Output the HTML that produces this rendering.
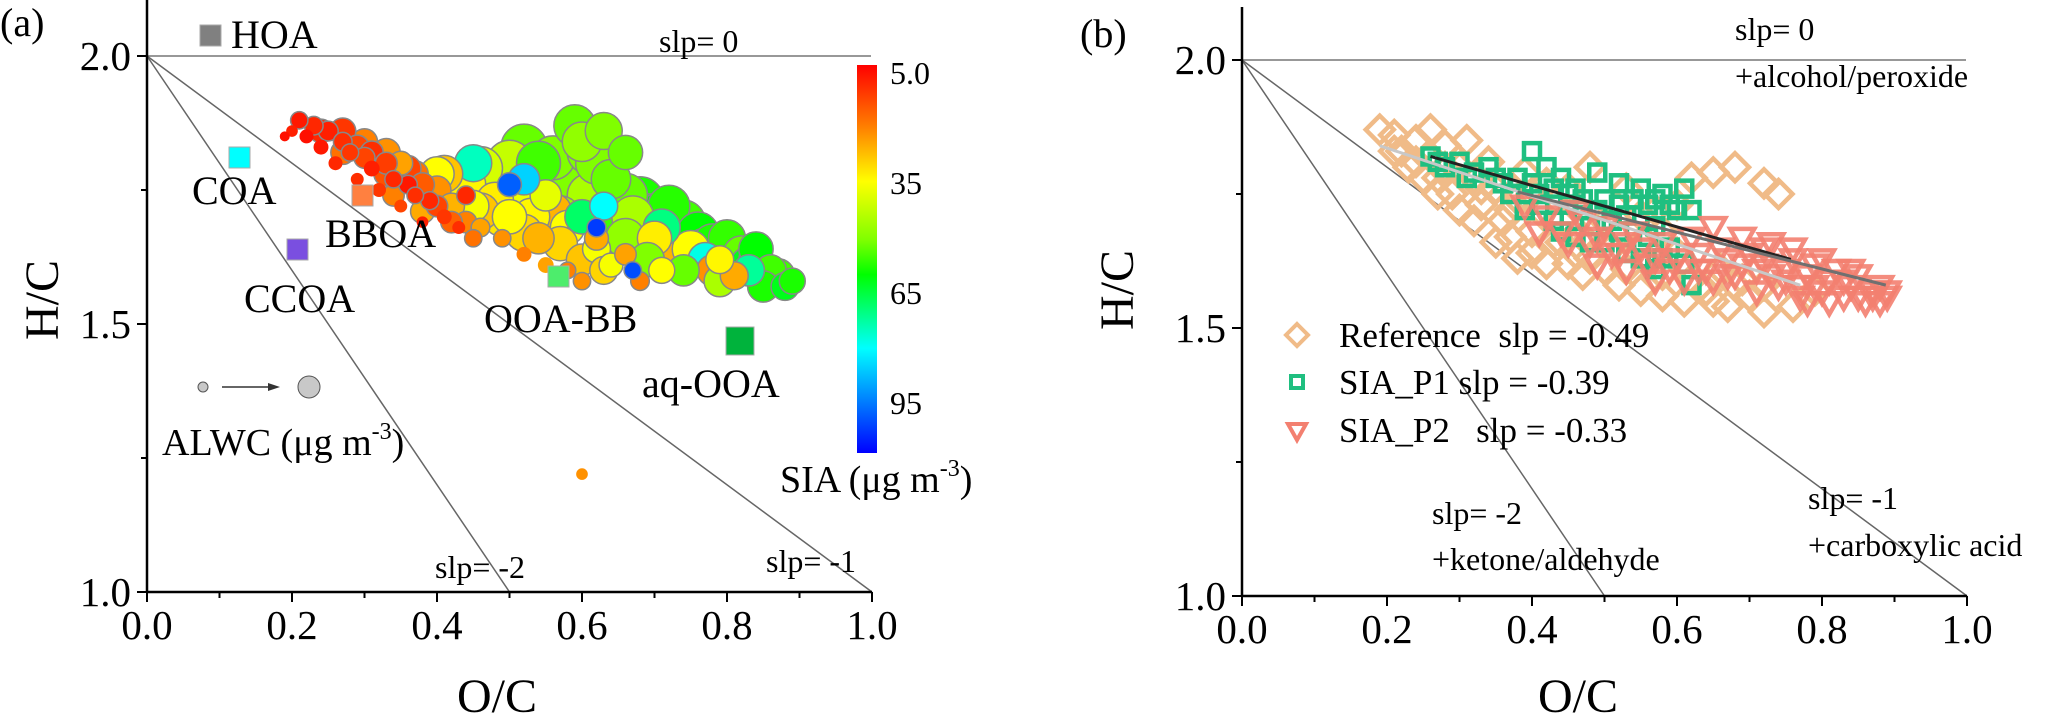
<!DOCTYPE html>
<html><head><meta charset="utf-8">
<style>
html,body{margin:0;padding:0;background:#fff;}
svg{display:block;font-family:"Liberation Serif","DejaVu Serif",serif;}
</style></head>
<body>
<svg id="fig" width="2067" height="721" viewBox="0 0 2067 721" xmlns="http://www.w3.org/2000/svg">
<defs>
<linearGradient id="cbar" x1="0" y1="0" x2="0" y2="1">
<stop offset="0" stop-color="#ff0000"/>
<stop offset="0.16" stop-color="#ff8000"/>
<stop offset="0.30" stop-color="#ffff00"/>
<stop offset="0.45" stop-color="#80ff00"/>
<stop offset="0.54" stop-color="#00ff00"/>
<stop offset="0.73" stop-color="#00ffff"/>
<stop offset="1" stop-color="#0000ff"/>
</linearGradient>
</defs>
<g id="panelA"></g>
<g id="panelB"></g>
</svg>
<script>
// ---------- Panel (a) data: O/C, H/C, SIA, ALWC ----------
const aOC  = [0.21,0.23,0.22,0.25,0.27,0.24,0.28,0.26,0.30,0.31,0.29,0.33,0.34,0.32,0.36,0.37,0.35,0.39,0.41,0.38,0.43,0.20,0.19,
 0.27,0.30,0.33,0.35,0.37,0.34,0.38,0.40,0.42,0.44,0.47,0.46,0.49,0.52,0.55,0.58,0.56,0.62,0.66,0.73,0.78,0.81,0.68,0.60,
 0.40,0.44,0.45,0.48,0.51,0.50,0.53,0.55,0.58,0.62,0.70,0.75,0.79,0.64,0.71,
 0.52,0.56,0.58,0.60,0.62,0.64,0.61,0.57,0.65,0.68,0.70,0.72,0.74,0.76,0.78,0.80,0.82,0.84,0.86,0.88,0.85,0.66,0.69,0.74,0.63,0.66,
 0.45,0.52,0.63,0.71,0.77,0.83,0.60,
 0.50,0.62,0.67,
 0.60,
 0.24,0.27,0.29,0.31,0.33,0.36,0.38,0.40,0.42,0.45,0.44,
 0.41,0.43,0.46,0.49,0.52,0.54,0.57,0.60,0.63,0.46,0.50,
 0.54,0.57,0.60,0.63,0.66,0.69,0.72,0.75,0.77,0.80,0.83,0.87,0.59,0.61,0.67,0.71,0.79,0.84,0.89];
const aHC  = [1.88,1.87,1.85,1.86,1.84,1.83,1.82,1.80,1.81,1.79,1.77,1.80,1.77,1.75,1.76,1.74,1.72,1.73,1.70,1.69,1.68,1.86,1.85,
 1.82,1.84,1.82,1.80,1.78,1.74,1.71,1.75,1.72,1.69,1.77,1.68,1.66,1.63,1.61,1.60,1.71,1.66,1.63,1.62,1.60,1.59,1.58,1.58,
 1.78,1.76,1.72,1.73,1.74,1.70,1.70,1.74,1.68,1.64,1.66,1.64,1.62,1.61,1.60,
 1.83,1.81,1.79,1.84,1.80,1.77,1.74,1.70,1.70,1.73,1.70,1.72,1.69,1.67,1.65,1.66,1.63,1.62,1.60,1.57,1.57,1.66,1.62,1.60,1.86,1.82,
 1.80,1.77,1.72,1.68,1.62,1.60,1.70,
 1.76,1.68,1.60,
 1.22,
 1.86,1.86,1.83,1.82,1.78,1.79,1.76,1.72,1.69,1.66,1.74,
 1.78,1.74,1.71,1.70,1.67,1.66,1.65,1.62,1.60,1.79,1.80,
 1.80,1.77,1.78,1.76,1.74,1.70,1.68,1.66,1.64,1.62,1.61,1.59,1.87,1.82,1.70,1.64,1.58,1.64,1.58];
const aSIA = [6,8,5,7,9,6,10,8,12,7,9,11,8,10,6,9,12,8,10,7,9,7,5,
 18,20,22,24,18,20,25,22,26,20,22,24,22,20,24,20,26,25,24,26,22,25,20,22,
 35,34,36,33,37,35,34,38,35,36,33,35,34,36,35,
 52,50,55,48,50,52,45,48,55,58,60,57,55,60,58,56,52,60,55,62,58,48,50,52,50,52,
 75,85,80,70,78,72,68,
 98,102,100,
 22,
 8,10,12,9,14,12,15,12,16,18,8,
 28,30,28,32,30,26,30,28,30,40,42,
 55,50,48,55,52,58,60,55,58,60,62,55,52,50,45,40,45,60,58];
const aALWC = [8,10,4,12,10,5,8,4,14,6,3,16,8,4,10,7,3,9,5,2,3,2,1,
 20,25,30,20,25,15,20,30,25,15,120,10,8,5,6,7,60,20,15,60,40,30,10,8,
 50,70,40,60,80,50,60,40,50,30,50,60,30,20,25,
 100,90,110,70,80,70,90,80,100,110,90,80,90,80,70,60,60,50,40,30,40,70,50,40,60,50,
 60,40,30,60,50,40,50,
 20,10,8,
 2,
 20,25,20,18,22,25,20,15,15,8,10,
 60,80,60,70,60,40,50,40,30,90,100,
 90,100,110,100,90,100,90,90,80,70,60,50,80,90,80,70,40,50,25];
const cbTicks = [5.0, 35, 65, 95];
const cbTickLabels = ["5.0","35","65","95"];
const sources = ["HOA","COA","BBOA","CCOA","OOA-BB","aq-OOA"];

// ---------- Panel (b) data ----------
const refOC = [0.19,0.21,0.22,0.24,0.23,0.26,0.27,0.28,0.30,0.29,0.32,0.33,0.34,0.35,0.36,0.38,0.39,0.40,0.41,0.43,0.44,0.45,0.47,0.48,0.50,0.51,0.53,0.55,0.56,0.58,0.60,0.62,0.65,0.68,0.70,0.72,0.48,0.53,0.57,0.62,0.65,0.68,0.72,0.74,0.35,0.26,0.31,0.42,0.38,0.60,
 0.25,0.27,0.30,0.32,0.37,0.40,0.42,0.45,0.47,0.50,0.52,0.55,0.58,0.61,0.64,0.67,0.44,0.46,0.33,0.37,0.40,0.28,0.21,0.24,0.66,0.69,0.76,0.79,0.72,0.55,0.58];
const refHC = [1.87,1.86,1.83,1.85,1.80,1.82,1.78,1.84,1.80,1.75,1.78,1.73,1.81,1.76,1.70,1.74,1.79,1.68,1.72,1.66,1.70,1.76,1.67,1.63,1.70,1.65,1.61,1.66,1.62,1.60,1.64,1.59,1.55,1.58,1.56,1.53,1.80,1.76,1.72,1.78,1.79,1.80,1.77,1.75,1.66,1.87,1.85,1.77,1.63,1.73,
 1.78,1.75,1.72,1.70,1.67,1.64,1.62,1.62,1.60,1.61,1.58,1.57,1.56,1.55,1.57,1.54,1.66,1.64,1.76,1.72,1.75,1.80,1.83,1.81,1.61,1.59,1.54,1.57,1.58,1.71,1.68];
const p1OC = [0.26,0.28,0.30,0.32,0.34,0.36,0.38,0.40,0.42,0.41,0.44,0.46,0.47,0.49,0.50,0.52,0.53,0.55,0.56,0.58,0.60,0.61,0.43,0.46,0.50,0.53,0.55,0.57,0.59,0.62,0.45,0.39,0.57,0.48,0.51,
 0.27,0.31,0.35,0.37,0.40,0.43,0.45,0.47,0.49,0.52,0.54,0.57,0.59,0.62,0.44,0.48,0.52,0.56,0.58,0.61,0.41];
const p1HC = [1.82,1.80,1.81,1.79,1.80,1.77,1.78,1.83,1.80,1.75,1.78,1.76,1.72,1.79,1.74,1.77,1.71,1.76,1.73,1.75,1.72,1.76,1.70,1.67,1.66,1.64,1.63,1.61,1.65,1.58,1.73,1.72,1.69,1.69,1.70,
 1.81,1.78,1.78,1.75,1.77,1.76,1.75,1.74,1.72,1.73,1.74,1.74,1.73,1.72,1.68,1.66,1.68,1.67,1.63,1.62,1.73];
const p2OC = [0.39,0.42,0.44,0.46,0.48,0.50,0.52,0.54,0.56,0.58,0.60,0.62,0.64,0.66,0.68,0.70,0.72,0.74,0.76,0.78,0.80,0.82,0.84,0.86,0.88,0.89,0.85,0.81,0.77,0.73,0.69,0.65,0.61,0.57,0.53,0.71,0.79,0.83,0.75,0.67,0.63,0.55,0.47,0.87,0.49,
 0.41,0.45,0.49,0.51,0.53,0.57,0.59,0.63,0.65,0.67,0.69,0.71,0.73,0.75,0.77,0.79,0.81,0.83,0.85,0.87,0.89,0.76,0.80,0.72,0.84,0.78,0.88];
const p2HC = [1.73,1.71,1.68,1.72,1.66,1.69,1.64,1.68,1.62,1.66,1.63,1.67,1.61,1.65,1.60,1.64,1.62,1.58,1.63,1.60,1.57,1.61,1.58,1.55,1.58,1.56,1.60,1.55,1.56,1.66,1.67,1.69,1.59,1.59,1.61,1.57,1.62,1.56,1.61,1.63,1.64,1.65,1.70,1.57,1.62,
 1.68,1.66,1.67,1.64,1.66,1.63,1.61,1.61,1.59,1.60,1.62,1.61,1.60,1.59,1.58,1.58,1.59,1.59,1.56,1.56,1.57,1.65,1.63,1.65,1.61,1.55,1.55];
const fitNames = ["fit-reference","fit-sia-p1","fit-sia-p2"];
const fitX0 = [0.19,0.26,0.38];
const fitX1 = [0.77,0.757,0.888];
const fitY0 = [1.84,1.82,1.754];
const fitY1 = [1.58,1.628,1.58];
const legendLabels = ["Reference\u00a0\u00a0slp = -0.49","SIA_P1 slp = -0.39","SIA_P2\u00a0\u00a0\u00a0slp = -0.33"];
const xTicks = [0.0,0.2,0.4,0.6,0.8,1.0];
const xTickLabels = ["0.0","0.2","0.4","0.6","0.8","1.0"];
const yTicks = [1.0,1.5,2.0];
const yTickLabels = ["1.0","1.5","2.0"];

const NS = "http://www.w3.org/2000/svg";
function mk(parent, tag, attrs, text){
  const e = document.createElementNS(NS, tag);
  for (const k in attrs) e.setAttribute(k, attrs[k]);
  if (text !== undefined) e.textContent = text;
  parent.appendChild(e);
  return e;
}
function cmap(v){
  const st=[[2.8,[255,0,0]],[20,[255,128,0]],[35,[255,255,0]],[50,[128,255,0]],[60,[0,255,0]],[80,[0,255,255]],[108.6,[0,0,255]]];
  if (v<=st[0][0]) return "rgb(255,0,0)";
  for (let i=1;i<st.length;i++){
    if (v<=st[i][0]){
      const t=(v-st[i-1][0])/(st[i][0]-st[i-1][0]);
      const c=st[i-1][1].map((a,j)=>Math.round(a+(st[i][1][j]-a)*t));
      return "rgb("+c.join(",")+")";
    }
  }
  return "rgb(0,0,255)";
}

function drawAxes(g, x0, x1, yTop, xs, ys){
  const ax = mk(g,"g",{});
  
  
  mk(ax,"line",{x1:x0,y1:yTop,x2:x0,y2:ys(1.0)+1,stroke:"#000","stroke-width":2.5});
  mk(ax,"line",{x1:x0-1,y1:ys(1.0),x2:x1,y2:ys(1.0),stroke:"#000","stroke-width":2.5});
  for (let i=0;i<=10;i++){
    const v=i/10, X=xs(v), major=(i%2===0);
    mk(ax,"line",{x1:X,y1:ys(1.0),x2:X,y2:ys(1.0)+(major?10:6),stroke:"#000","stroke-width":2});
  }
  xTicks.forEach((v,i)=>{
    const t=mk(ax,"text",{x:xs(v),y:ys(1.0)+47,"font-size":41,"text-anchor":"middle"},xTickLabels[i]);
    
    
  });
  [1.0,1.25,1.5,1.75,2.0].forEach(v=>{
    const major=(v===1.0||v===1.5||v===2.0);
    mk(ax,"line",{x1:x0,y1:ys(v),x2:x0-(major?10:6),y2:ys(v),stroke:"#000","stroke-width":2});
  });
  yTicks.forEach((v,i)=>{
    const t=mk(ax,"text",{x:x0-16,y:ys(v)+14,"font-size":41,"text-anchor":"end"},yTickLabels[i]);
    
    
  });
}
function refLines(g, xs, ys, x1){
  const o=[xs(0),ys(2)];
  const l0=mk(g,"line",{x1:o[0],y1:o[1],x2:x1,y2:ys(2),stroke:"#777","stroke-width":1.5});
   
  const l1=mk(g,"line",{x1:o[0],y1:o[1],x2:xs(1),y2:ys(1),stroke:"#666","stroke-width":1.5});
   
  const l2=mk(g,"line",{x1:o[0],y1:o[1],x2:xs(0.5),y2:ys(1),stroke:"#666","stroke-width":1.5});
   
}
function label(g,x,y,size,txt,name,anchor){
  const t=mk(g,"text",{x:x,y:y,"font-size":size,"text-anchor":anchor||"start"},txt);
  
  
  return t;
}

// ================= PANEL A =================
(function(){
  const g=document.getElementById("panelA");
  const xs=v=>147+725*v, ys=v=>592-536*(v-1);
  refLines(g,xs,ys,871);
  const bub=mk(g,"g",{});
  
  
  const idx=aOC.map((_,i)=>i).sort((a,b)=>aALWC[b]-aALWC[a]);
  idx.forEach(i=>{
    const r=3+2.0*Math.sqrt(aALWC[i]);
    const c=mk(bub,"circle",{cx:xs(aOC[i]),cy:ys(aHC[i]),r:r,fill:cmap(aSIA[i]),stroke:r>8?"#888":"none","stroke-width":1.5});
    
    
  });
  drawAxes(g,147,872,0,xs,ys);
  label(g,0,36,40,"(a)","panel-a-label");
  const sq=[[200,25,"#808080","HOA",231,48],[229,147,"#00ffff","COA",192,204],[352,185,"#ff8040","BBOA",325,247],[287,239,"#7a4fe0","CCOA",244,312],[548,266,"#4ded6c","OOA-BB",484,332],[726,327,"#00b33c","aq-OOA",642,397]];
  sq.forEach((s,i)=>{
    const w=(i===5)?28:21;
    const r=mk(g,"rect",{x:s[0],y:s[1],width:w,height:w,fill:s[2],stroke:"#aaa","stroke-width":1});
    
    
    label(g,s[4],s[5],40,sources[i],'source-label-'+sources[i].toLowerCase());
  });
  label(g,659,52,32,"slp= 0","slope-0-label");
  label(g,435,578,32,"slp= -2","slope-minus2-label");
  label(g,766,572,32,"slp= -1","slope-minus1-label");
  const lg=mk(g,"g",{});
  
  
  mk(lg,"circle",{cx:203,cy:387,r:5,fill:"#c8c8c8",stroke:"#555","stroke-width":1});
  mk(lg,"line",{x1:222,y1:387,x2:272,y2:387,stroke:"#333","stroke-width":1.5});
  mk(lg,"polygon",{points:"280,387 268,383 268,391",fill:"#333"});
  mk(lg,"circle",{cx:309,cy:387,r:11,fill:"#c8c8c8",stroke:"#555","stroke-width":1});
  const at=mk(lg,"text",{x:162,y:455,"font-size":38},"ALWC (μg m");
  mk(at,"tspan",{"font-size":24,dy:-16},"-3");
  mk(at,"tspan",{dy:16},")");
  const cb=mk(g,"g",{});
  
  
  mk(cb,"rect",{x:857,y:65,width:20,height:388,fill:"url(#cbar)"});
  const cy=v=>65+(v-2.8)*(388/105.8);
  cbTicks.forEach((v,i)=>{
    const t=mk(cb,"text",{x:890,y:cy(v)+11,"font-size":32},cbTickLabels[i]);
    
    
  });
  const st=mk(cb,"text",{x:780,y:492,"font-size":38},"SIA (μg m");
  
  
  mk(st,"tspan",{"font-size":24,dy:-16},"-3");
  mk(st,"tspan",{dy:16},")");
  const yt=mk(g,"text",{x:0,y:0,"font-size":48,"text-anchor":"middle",transform:"translate(58,300) rotate(-90)"},"H/C");
   
  label(g,497,712,48,"O/C","x-axis-title","middle");
})();

// ================= PANEL B =================
(function(){
  const g=document.getElementById("panelB");
  const xs=v=>1242+725*v, ys=v=>596-536*(v-1);
  refLines(g,xs,ys,1966);
  const sR=mk(g,"g",{});
  
  
  refOC.forEach((v,i)=>{
    const X=xs(v),Y=ys(refHC[i]),d=14;
    const p=mk(sR,"polygon",{points:`${X},${Y-d} ${X+d},${Y} ${X},${Y+d} ${X-d},${Y}`,fill:"none",stroke:"#f0bb88","stroke-width":4.5});
    
    
  });
  const s1=mk(g,"g",{});
  
  
  p1OC.forEach((v,i)=>{
    const X=xs(v),Y=ys(p1HC[i]);
    const p=mk(s1,"rect",{x:X-8,y:Y-8,width:16,height:16,fill:"none",stroke:"#1fbf80","stroke-width":4.5});
    
    
  });
  const s2=mk(g,"g",{});
  
  
  p2OC.forEach((v,i)=>{
    const X=xs(v),Y=ys(p2HC[i]);
    const p=mk(s2,"polygon",{points:`${X-12},${Y-8} ${X+12},${Y-8} ${X},${Y+13}`,fill:"none",stroke:"#f38070","stroke-width":4.5,"stroke-opacity":0.9});
    
    
  });
  const fc=["#c8c8c8","#222","#707070"];
  fitNames.forEach((n,i)=>{
    const l=mk(g,"line",{x1:xs(fitX0[i]),y1:ys(fitY0[i]),x2:xs(fitX1[i]),y2:ys(fitY1[i]),stroke:fc[i],"stroke-width":3});
    
    
  });
  drawAxes(g,1242,1967,7,xs,ys);
  label(g,1080,47,40,"(b)","panel-b-label");
  label(g,1735,40,32,"slp= 0","slope-0-label");
  label(g,1735,87,32,"+alcohol/peroxide","alcohol-peroxide-label");
  label(g,1432,524,32,"slp= -2","slope-minus2-label");
  label(g,1432,570,32,"+ketone/aldehyde","ketone-aldehyde-label");
  label(g,1808,509,32,"slp= -1","slope-minus1-label");
  label(g,1808,556,32,"+carboxylic acid","carboxylic-acid-label");
  const lg=mk(g,"g",{});
  
  
  const ly=[335,382,430];
  mk(lg,"polygon",{points:"1297,324 1308,335 1297,346 1286,335",fill:"none",stroke:"#f0bb88","stroke-width":4});
  mk(lg,"rect",{x:1291,y:376,width:12,height:12,fill:"none",stroke:"#1fbf80","stroke-width":4});
  mk(lg,"polygon",{points:"1288,424 1306,424 1297,440",fill:"none",stroke:"#f38070","stroke-width":4});
  legendLabels.forEach((t,i)=>{
    const e=mk(lg,"text",{x:1339,y:ly[i]+12,"font-size":35},t);
    
    
  });
  const yt=mk(g,"text",{x:0,y:0,"font-size":48,"text-anchor":"middle",transform:"translate(1133,290) rotate(-90)"},"H/C");
   
  label(g,1578,712,48,"O/C","x-axis-title","middle");
})();
</script>
</body></html>
